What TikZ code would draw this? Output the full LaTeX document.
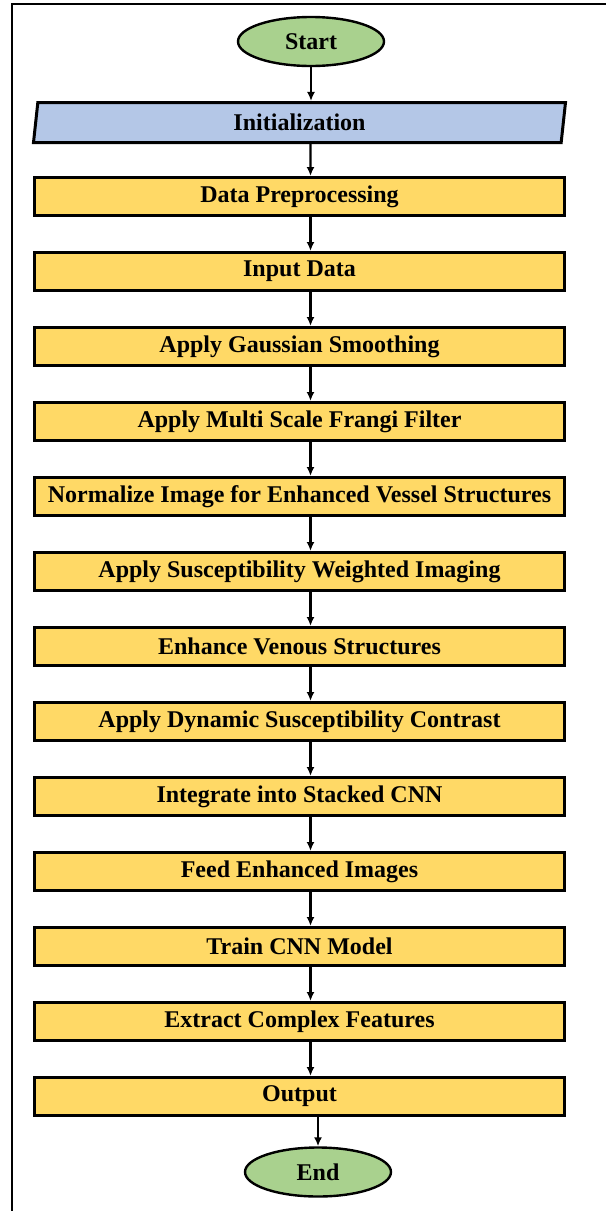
\documentclass[tikz,border=0pt]{standalone}
\usepackage{fontspec}
\setmainfont{Liberation Serif}
\usepackage{tikz}
\usetikzlibrary{positioning,shapes.geometric,arrows.meta}

\definecolor{termgreen}{HTML}{A9D18E}
\definecolor{iniblue}{HTML}{B4C7E7}
\definecolor{stepyellow}{HTML}{FFD966}

\begin{document}
\begin{tikzpicture}[x=1pt,y=-1pt,
  font=\fontsize{24}{28}\selectfont\bfseries,
  term/.style={ellipse,draw,line width=2.4pt,fill=termgreen,minimum width=146pt,minimum height=49pt,inner sep=0pt},
  inibox/.style={trapezium,trapezium left angle=75.6,trapezium right angle=104.4,trapezium stretches body,
    draw,line width=3pt,fill=iniblue,minimum width=532pt,minimum height=40pt,inner sep=0pt},
  stepbox/.style={rectangle,draw,line width=3pt,fill=stepyellow,minimum width=530pt,minimum height=38pt,inner sep=0pt},
  arr/.style={line width=2.2pt,-{Latex[length=9pt,width=8pt]}},
  node distance=34pt]
\useasboundingbox (0,0) rectangle (606,1211);
% frame cut off at right and bottom
\draw[line width=2.4pt] (12,1211) -- (12,4) -- (606,4);
% flow: start, init, then the yellow steps
\node[term] (start) at (311,41.5) {Start};
\node[inibox] (init) at (299.5,122.5) {Initialization};
\node[stepbox] (prep) at (299.5,196.5) {Data Preprocessing};
\node[stepbox,below=of prep] (input) {Input Data};
\node[stepbox,below=of input] (gauss) {Apply Gaussian Smoothing};
\node[stepbox,below=of gauss] (frangi) {Apply Multi Scale Frangi Filter};
\node[stepbox,below=of frangi] (norm) {Normalize Image for Enhanced Vessel Structures};
\node[stepbox,below=of norm] (swi) {Apply Susceptibility Weighted Imaging};
\node[stepbox,below=of swi] (venous) {Enhance Venous Structures};
\node[stepbox,below=of venous] (dsc) {Apply Dynamic Susceptibility Contrast};
\node[stepbox,below=of dsc] (stack) {Integrate into Stacked CNN};
\node[stepbox,below=of stack] (feed) {Feed Enhanced Images};
\node[stepbox,below=of feed] (train) {Train CNN Model};
\node[stepbox,below=of train] (extract) {Extract Complex Features};
\node[stepbox,below=of extract] (output) {Output};
\node[term] (stop) at (318,1172) {End};
% connectors
\draw[arr] (start.south) -- (start.south |- init.north);
\foreach \a/\b in {init/prep,prep/input,input/gauss,gauss/frangi,frangi/norm,norm/swi,swi/venous,
  venous/dsc,dsc/stack,stack/feed,feed/train,train/extract,extract/output}
  \draw[arr] ([xshift=11pt]\a.south) -- ([xshift=11pt]\b.north);
\draw[arr] (stop.north |- output.south) -- (stop.north);
\end{tikzpicture}
\end{document}
